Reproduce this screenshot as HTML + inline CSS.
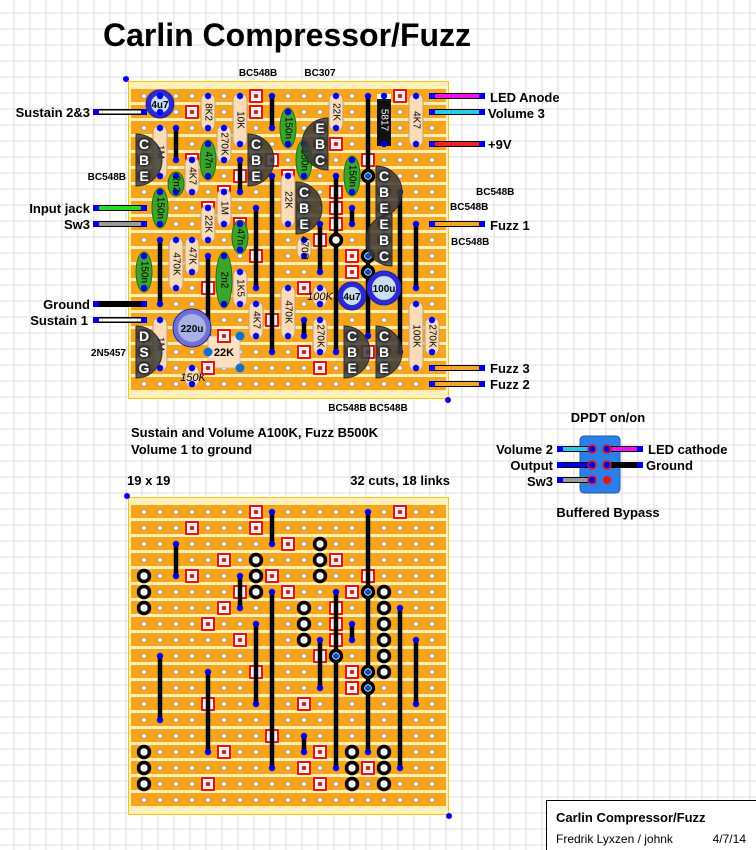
<!DOCTYPE html>
<html><head><meta charset="utf-8"><style>
html,body{margin:0;padding:0;background:#fff}
svg{display:block}
text{font-family:"Liberation Sans",sans-serif}
</style></head><body>
<svg id="s" width="756" height="850" viewBox="0 0 756 850" xmlns="http://www.w3.org/2000/svg"></svg>
<script>
var o='';
for(var x=14;x<756;x+=16)o+='<line x1="'+x+'" y1="0" x2="'+x+'" y2="850" stroke="#dcdcdc" stroke-width="1"/>';
for(var y=13;y<850;y+=16)o+='<line x1="0" y1="'+y+'" x2="756" y2="'+y+'" stroke="#dcdcdc" stroke-width="1"/>';
function X(c){return 144+16*c}
var Y0=96;function Y(r){return Y0+16*r}
function board(top){
 o+='<rect x="128.5" y="'+(top+0.5)+'" width="320" height="317" fill="#fcefb8" stroke="#f5c518"/>';
 for(var r=0;r<19;r++){o+='<rect x="131" y="'+(Y(r)-7)+'" width="315" height="13" fill="#f7a51c"/>';}
 for(var r=0;r<19;r++)for(var c=0;c<19;c++)o+='<circle cx="'+X(c)+'" cy="'+Y(r)+'" r="2.3" fill="#fff" stroke="#999" stroke-width="0.8"/>';
}
function dot(c,r){o+='<circle cx="'+X(c)+'" cy="'+Y(r)+'" r="3.2" fill="#0000ee"/>'}
function cut(c,r){o+='<rect x="'+(X(c)-6)+'" y="'+(Y(r)-6)+'" width="12" height="12" fill="#fff" stroke="#ee1111" stroke-width="2"/><circle cx="'+X(c)+'" cy="'+Y(r)+'" r="2.3" fill="#ee1111"/>'}
function link(c,a,b){o+='<line x1="'+X(c)+'" y1="'+Y(a)+'" x2="'+X(c)+'" y2="'+Y(b)+'" stroke="#000" stroke-width="4.5"/>';dot(c,a);dot(c,b)}
function ring(c,r,blue){o+='<circle cx="'+X(c)+'" cy="'+Y(r)+'" r="5.5" fill="#fff" stroke="#000" stroke-width="3.5"/>';if(blue)o+='<circle cx="'+X(c)+'" cy="'+Y(r)+'" r="3" fill="#0050c0"/>'}
function vt(x,y,t,sz,it){o+='<text x="'+x+'" y="'+y+'" font-size="'+sz+'" text-anchor="middle" dominant-baseline="central" transform="rotate(90 '+x+' '+y+')"'+(it?' font-style="italic"':'')+'>'+t+'</text>'}
function res(c,a,b,t){var y1=Y(a)-3,y2=Y(b)+3;o+='<rect x="'+(X(c)-7)+'" y="'+y1+'" width="14" height="'+(y2-y1)+'" rx="7" fill="#f8dcb8" stroke="#c89a6a" stroke-width="1"/>';dot(c,a);dot(c,b);vt(X(c),(Y(a)+Y(b))/2,t,10)}
function cap(c,a,b,t){var cy=(Y(a)+Y(b))/2,ry=(Y(b)-Y(a))/2+4;o+='<ellipse cx="'+X(c)+'" cy="'+cy+'" rx="8" ry="'+ry+'" fill="#3aa52a" stroke="#1f7010"/>';dot(c,a);dot(c,b);vt(X(c),cy,t,10)}
function tr(c,r,L,right){var yc=Y(r+1),x0=right?X(c)-8:X(c)+8;o+='<path d="M'+x0+' '+(yc-26)+' A26 26 0 0 '+(right?1:0)+' '+x0+' '+(yc+26)+' Z" fill="#3a3a3a" fill-opacity="0.85" stroke="#2a2a2a"/>';for(var i=0;i<3;i++){o+='<circle cx="'+X(c)+'" cy="'+Y(r+i)+'" r="7" fill="#333"/><text x="'+X(c)+'" y="'+(Y(r+i)+5)+'" font-size="14" font-weight="bold" fill="#fff" text-anchor="middle">'+L[i]+'</text>'}}
function ecap(x,y,R,t,fill,inner){o+='<circle cx="'+x+'" cy="'+y+'" r="'+R+'" fill="'+fill+'" stroke="#2020a0"/><circle cx="'+x+'" cy="'+y+'" r="'+(R-5)+'" fill="'+inner+'"/><text x="'+x+'" y="'+(y+4)+'" font-size="10" font-weight="bold" text-anchor="middle">'+t+'</text>'}
function T(x,y,t,sz,w,anc){o+='<text x="'+x+'" y="'+y+'" font-size="'+sz+'" font-weight="'+(w||'bold')+'"'+(anc?' text-anchor="'+anc+'"':'')+'>'+t+'</text>'}
var cuts=[[7,0],[16,0],[3,1],[7,1],[9,2],[5,3],[12,3],[3,4],[8,4],[14,4],[6,5],[9,5],[13,5],[5,6],[12,6],[4,7],[12,7],[6,8],[12,8],[11,9],[7,10],[13,10],[13,11],[4,12],[10,12],[8,14],[5,15],[11,15],[10,16],[14,16],[4,17],[11,17]];
var links=[[8,0,2],[14,0,15],[2,2,4],[6,4,6],[8,5,16],[12,5,16],[16,6,16],[7,7,12],[13,7,8],[11,8,11],[17,8,12],[1,9,13],[4,10,15],[10,14,15]];
function wire(y,x1,x2,col,outline){o+='<line x1="'+x1+'" y1="'+y+'" x2="'+x2+'" y2="'+y+'" stroke="#000" stroke-width="6"/><line x1="'+x1+'" y1="'+y+'" x2="'+x2+'" y2="'+y+'" stroke="'+col+'" stroke-width="'+(outline?3:4)+'"/><rect x="'+(x1-3)+'" y="'+(y-3)+'" width="6" height="6" fill="#0000ee"/><rect x="'+(x2-3)+'" y="'+(y-3)+'" width="6" height="6" fill="#0000ee"/>'}

board(81);
cuts.forEach(function(a){cut(a[0],a[1])});
links.forEach(function(a){link(a[0],a[1],a[2])});
ring(14,5,1);ring(12,9,0);ring(14,10,1);ring(14,11,1);
res(4,0,2,'8K2');res(6,0,3,'10K');res(1,2,5,'1M');res(5,2,4,'270K');res(3,4,6,'4K7');res(5,6,8,'1M');res(4,7,9,'22K');
res(9,5,8,'22K');res(12,0,2,'22K');res(17,0,3,'4K7');
res(2,9,12,'470K');res(3,9,11,'47K');res(6,11,13,'1K5');res(7,13,15,'4K7');res(9,12,15,'470K');
res(10,9,10,'470R');res(11,14,16,'270K');res(17,13,17,'100K');res(18,14,16,'270K');res(1,14,17,'1M');
cap(9,1,3,'150n');cap(4,3,5,'47n');cap(2,5,6,'2n2');cap(1,6,8,'150n');cap(6,8,9.6,'47n');
cap(10,3,5,'150n');cap(13,4,6,'150n');cap(0,10,12,'150n');cap(5,10,13,'2n2');
o+='<rect x="'+(X(11)-7)+'" y="'+(Y(12)-3)+'" width="14" height="22" rx="7" fill="#f8dcb8" stroke="#c89a6a"/>';dot(11,12);dot(11,13);
T(X(11),Y(12)+12,'<tspan font-style="italic">100K</tspan>',11,'normal','middle');
o+='<rect x="'+(X(3)-7)+'" y="'+(Y(17)-3)+'" width="14" height="22" rx="7" fill="#f8dcb8" stroke="#c89a6a"/>';dot(3,17);dot(3,18);
T(X(3)+1,Y(17)+13,'<tspan font-style="italic">150K</tspan>',11,'normal','middle');
o+='<rect x="'+(X(15)-7)+'" y="'+(Y(0)-2)+'" width="14" height="'+(Y(3)-Y(0)+4)+'" fill="#111"/><rect x="'+(X(15)-7)+'" y="'+(Y(0)-2)+'" width="14" height="5" fill="#fff"/>';
dot(15,0);dot(15,3);
o+='<text x="'+X(15)+'" y="'+((Y(0)+Y(3))/2)+'" font-size="10" fill="#fff" text-anchor="middle" dominant-baseline="central" transform="rotate(90 '+X(15)+' '+((Y(0)+Y(3))/2)+')">5817</text>';
o+='<rect x="'+X(4)+'" y="'+Y(15)+'" width="32" height="32" fill="#fde0c0" stroke="#bbb"/>';
o+='<circle cx="'+X(6)+'" cy="'+Y(15)+'" r="4.5" fill="#1070d0"/><circle cx="'+X(4)+'" cy="'+Y(16)+'" r="4.5" fill="#1070d0"/><circle cx="'+X(6)+'" cy="'+Y(17)+'" r="4.5" fill="#1070d0"/>';
T(X(5),Y(16)+4,'22K',11,'bold','middle');
cut(5,15);cut(4,17);
tr(0,3,'CBE',1);tr(7,3,'CBE',1);tr(11,2,'EBC',0);tr(10,6,'CBE',1);tr(15,5,'CBE',1);tr(15,8,'EBC',0);
tr(13,15,'CBE',1);tr(15,15,'CBE',1);tr(0,15,'DSG',1);
ecap(160,104,14,'4u7','#2a2ad0','#c8dcf4');dot(1,0);dot(1,1);
ecap(352,296,14,'4u7','#2a2ad0','#c8dcf4');
ecap(384,288,17,'100u','#2a2ad0','#c8dcf4');
ecap(192,328,19,'220u','#7070d0','#a8b0e8');
wire(Y(1),96,X(0),'#fff',1);wire(Y(7),96,X(0),'#22dd22');wire(Y(8),96,X(0),'#999');wire(Y(13),96,X(0),'#000');wire(Y(14),96,X(0),'#fff',1);
wire(Y(0),X(18),482,'#ee11ee');wire(Y(1),X(18),482,'#22ccee');wire(Y(3),X(18),482,'#ee2222');wire(Y(8),X(18),482,'#f5a52a');wire(Y(17),X(18),482,'#f5a52a');wire(Y(18),X(18),482,'#f5a52a');
o+='<circle cx="126" cy="79" r="3" fill="#0000ee"/><circle cx="448" cy="400" r="3" fill="#0000ee"/>';
T(287,46,'Carlin Compressor/Fuzz',32,'bold','middle');
T(258,76,'BC548B',10,'bold','middle');T(320,76,'BC307',10,'bold','middle');
T(90,117,'Sustain 2&amp;3',13,'bold','end');T(126,180,'BC548B',10,'bold','end');T(90,213,'Input jack',13,'bold','end');T(90,229,'Sw3',13,'bold','end');
T(90,309,'Ground',13,'bold','end');T(88,325,'Sustain 1',13,'bold','end');T(126,356,'2N5457',10,'bold','end');
T(490,102,'LED Anode',13);T(488,118,'Volume 3',13);T(488,149,'+9V',13);T(476,195,'BC548B',10);T(450,210,'BC548B',10);T(490,230,'Fuzz 1',13);T(451,245,'BC548B',10);
T(490,373,'Fuzz 3',13);T(490,389,'Fuzz 2',13);T(368,411,'BC548B BC548B',10,'bold','middle');
T(131,437,'Sustain and Volume A100K, Fuzz B500K',13);T(131,454,'Volume 1 to ground',13);
T(127,485,'19 x 19',13);T(450,485,'32 cuts, 18 links',13,'bold','end');
T(608,422,'DPDT on/on',13,'bold','middle');
o+='<rect x="580" y="436" width="40" height="57" rx="4" fill="#2d7fe8" stroke="#1a5bb0"/>';
wire(449,560,592,'#22ccee');wire(465,560,592,'#0000ee');wire(480,560,592,'#999');
wire(449,607,640,'#ee11ee');wire(465,607,640,'#000');
[[592,449],[607,449],[592,465],[607,465],[592,480]].forEach(function(p){o+='<circle cx="'+p[0]+'" cy="'+p[1]+'" r="4" fill="none" stroke="#ee1111" stroke-width="1.5"/>'});
o+='<circle cx="607" cy="480" r="4" fill="#ee1111"/>';
T(553,454,'Volume 2',13,'bold','end');T(553,470,'Output',13,'bold','end');T(553,486,'Sw3',13,'bold','end');
T(648,454,'LED cathode',13);T(646,470,'Ground',13);
T(608,517,'Buffered Bypass',13,'bold','middle');
Y0=512;
board(497);
cuts.forEach(function(a){cut(a[0],a[1])});
links.forEach(function(a){link(a[0],a[1],a[2])});
var rings=[[11,2],[7,3],[11,3],[0,4],[7,4],[11,4],[0,5],[7,5],[14,5,1],[15,5],[0,6],[10,6],[15,6],[10,7],[15,7],[10,8],[15,8],[12,9,1],[15,9],[14,10,1],[15,10],[14,11,1],[0,15],[13,15],[15,15],[0,16],[13,16],[15,16],[0,17],[13,17],[15,17]];
rings.forEach(function(a){ring(a[0],a[1],a[2])});
o+='<circle cx="127" cy="496" r="3" fill="#0000ee"/><circle cx="449" cy="816" r="3" fill="#0000ee"/>';
o+='<rect x="546.5" y="800.5" width="212" height="52" fill="#fff" stroke="#000"/>';
T(556,822,'Carlin Compressor/Fuzz',13);T(556,843,'Fredrik Lyxzen / johnk',12,'normal');T(746,843,'4/7/14',12,'normal','end');
document.getElementById('s').innerHTML=o;
</script>
</body></html>
